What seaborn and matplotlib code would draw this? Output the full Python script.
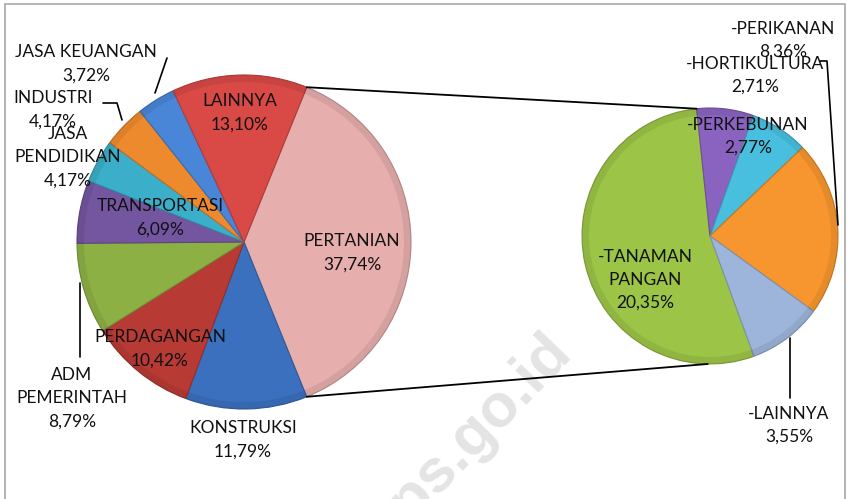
import matplotlib
matplotlib.use("Agg")
import matplotlib.pyplot as plt
import matplotlib.patches as mpatches
import seaborn as sns
import numpy as np

# data (persen)
sektor = ["PERTANIAN", "KONSTRUKSI", "PERDAGANGAN", "ADM\nPEMERINTAH", "TRANSPORTASI",
          "JASA\nPENDIDIKAN", "INDUSTRI", "JASA KEUANGAN", "LAINNYA"]
persen = [37.74, 11.79, 10.42, 8.79, 6.09, 4.17, 4.17, 3.72, 13.10]

sub_sektor = ["-TANAMAN\nPANGAN", "-HORTIKULTURA", "-PERKEBUNAN", "-PERIKANAN", "-LAINNYA"]
sub_persen = [20.35, 2.71, 2.77, 8.36, 3.55]

warna = ["#E6AEAD", "#3A70BE", "#B83A35", "#8DB045", "#7455A0",
         "#3BAFC9", "#EE8A2E", "#4A86D8", "#D94A47"]
sub_warna = ["#9CC447", "#8A63C0", "#49BFE0", "#F7962E", "#9DB5DB"]

sns.set_theme(style="white")
plt.rcParams["font.family"] = ["Lato", "DejaVu Sans"]

W, H = 848, 499
fig = plt.figure(figsize=(W / 100, H / 100), dpi=100)
ax = fig.add_axes([0, 0, 1, 1])

def P(x, y):
    # pixel coords (y down) -> axes data (y up)
    return x, H - y

c1, r1 = P(244, 242), 167
c2, r2 = P(710, 236), 128

def tepi(w):
    return dict(edgecolor=tuple(np.array(matplotlib.colors.to_rgb(w)) * 0.8), linewidth=0.8)

start1 = persen[0] / 100 * 360 / 2
wedges1, _ = ax.pie(persen, colors=warna, startangle=start1, counterclock=False,
                    center=c1, radius=r1, frame=True)
for wd, col in zip(wedges1, warna):
    wd.set(**tepi(col))

start2 = 96 + sub_persen[0] / sum(sub_persen) * 360
wedges2, _ = ax.pie(sub_persen, colors=sub_warna, startangle=start2, counterclock=False,
                    center=c2, radius=r2, frame=True)
for wd, col in zip(wedges2, sub_warna):
    wd.set(**tepi(col))

# soft darker rim, a nod to the bevelled Excel look
for c, r in [(c1, r1), (c2, r2)]:
    ax.add_patch(mpatches.Wedge(c, r, 0, 360, width=7, facecolor="black",
                                alpha=0.07, lw=0, zorder=2))

# connector lines from PERTANIAN to the second pie
for a1, a2 in [(start1, 96), (-start1, -91)]:
    x1 = c1[0] + r1 * np.cos(np.radians(a1))
    y1 = c1[1] + r1 * np.sin(np.radians(a1))
    x2 = c2[0] + r2 * np.cos(np.radians(a2))
    y2 = c2[1] + r2 * np.sin(np.radians(a2))
    ax.plot([x1, x2], [y1, y2], color="black", lw=1.3, zorder=3)

def fmt(v):
    return f"{v:.2f}%".replace(".", ",")

# label layout (pixel centres)
pos1 = [(352, 253), (243, 440), (160, 349), (72, 398), (160, 218),
        (68, 157), (53, 110), (86, 64), (240, 113)]
pos2 = [(645, 280), (755, 75), (748, 136), (783, 40), (789, 425)]

fs = 12.5
for nama, v, p in zip(sektor, persen, pos1):
    ax.text(*P(*p), f"{nama}\n{fmt(v)}", ha="center", va="center", fontsize=fs,
            linespacing=1.55, color="#111111", zorder=5)
for nama, v, p in zip(sub_sektor, sub_persen, pos2):
    ax.text(*P(*p), f"{nama}\n{fmt(v)}", ha="center", va="center", fontsize=fs,
            linespacing=1.5, color="#111111", zorder=5)

# leader lines
leaders = [
    [(167, 58), (155, 93)],
    [(103, 103), (117, 103), (122, 120)],
    [(80, 283), (80, 357)],
    [(820, 61), (827, 61), (838, 225)],
    [(790, 338), (790, 398)],
]
for ln in leaders:
    xs, ys = zip(*[P(*q) for q in ln])
    ax.plot(xs, ys, color="black", lw=1.2, zorder=4)

# watermark
ax.text(*P(468, 440), "bps.go.id", rotation=46, ha="center", va="center",
        fontsize=44, fontweight="bold", color="#E4E4E4",
        family=["Liberation Sans", "DejaVu Sans"], zorder=0.5)

# chart border
ax.add_patch(mpatches.Rectangle(P(5, 505), 840, 501, fill=False,
                                edgecolor="#A8A8A8", lw=1.2, zorder=6))

ax.set_xlim(0, W)
ax.set_ylim(0, H)
ax.set_aspect("equal")
ax.axis("off")

fig.savefig("out.png", dpi=100)
